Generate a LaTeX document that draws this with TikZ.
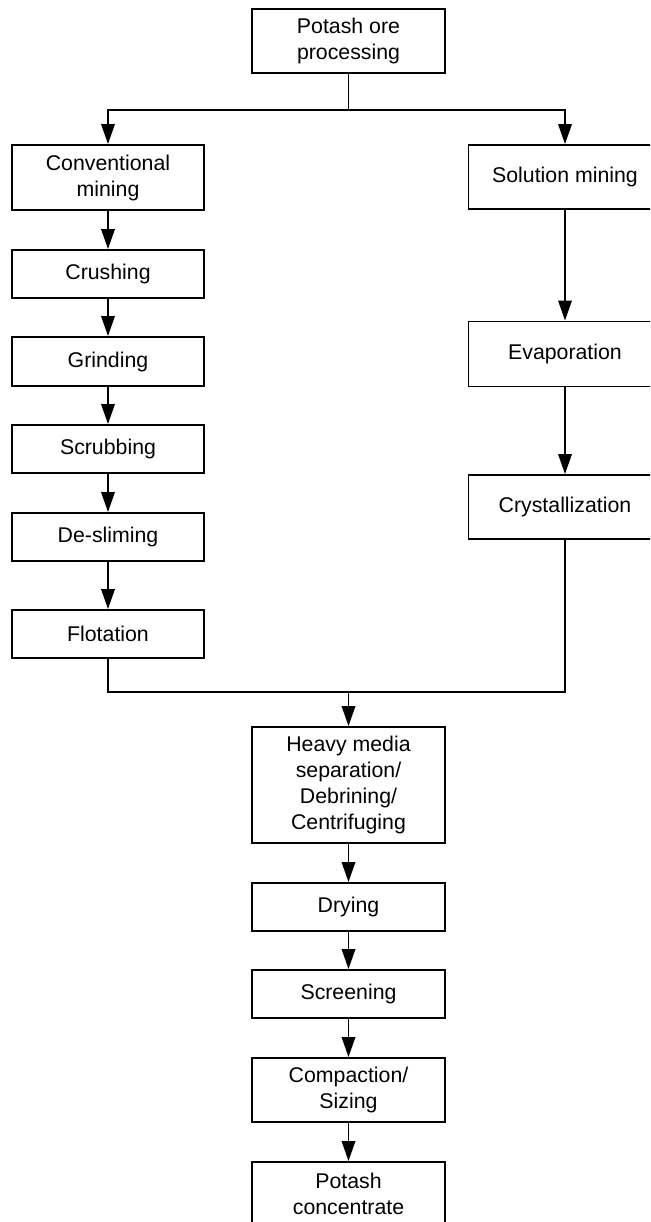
\documentclass[tikz,border=0pt]{standalone}
\usepackage{fontspec}
\setmainfont{Liberation Sans}
\usetikzlibrary{arrows.meta}

\begin{document}
\begin{tikzpicture}[x=1pt,y=-1pt,
  box/.style={draw=black, line width=1.9pt, fill=white, inner sep=0pt,
    align=center, font=\fontsize{21.3}{26}\selectfont},
  colL/.style={box, minimum width=192pt},
  colM/.style={box, minimum width=192.5pt},
  colR/.style={box, minimum width=193pt},
  link/.style={draw=black, line width=1.8pt},
  arr/.style={link, -{Triangle[length=20pt,width=13.5pt]}}
]
\useasboundingbox (0,0) rectangle (650,1222);
\fill[white] (0,0) rectangle (650,1222);
\clip (0,0) rectangle (650,1222);

% top process
\node[colM, minimum height=64pt] (top) at (348.5,41) {Potash ore\\processing};

% conventional mining branch
\node[colL, minimum height=65pt] (conv)    at (108,177.5) {Conventional\\mining};
\node[colL, minimum height=48pt] (crush)   at (108,274)   {Crushing};
\node[colL, minimum height=49pt] (grind)   at (108,361.5) {Grinding};
\node[colL, minimum height=48pt] (scrub)   at (108,449)   {Scrubbing};
\node[colL, minimum height=48pt] (deslime) at (108,537)   {De-sliming};
\node[colL, minimum height=48pt] (flot)    at (108,634)   {Flotation};

% solution mining branch
\node[colR, minimum height=64pt] (sol)   at (565,177) {Solution mining};
\node[colR, minimum height=65pt] (evap)  at (565,354) {Evaporation};
\node[colR, minimum height=64pt] (cryst) at (565,507) {Crystallization};

% common finishing steps
\node[colM, minimum height=116pt] (heavy)   at (348.5,785)  {Heavy media\\separation/\\Debrining/\\Centrifuging};
\node[colM, minimum height=48pt]  (dry)     at (348.5,907)  {Drying};
\node[colM, minimum height=48pt]  (screen)  at (348.5,994)  {Screening};
\node[colM, minimum height=64pt]  (compact) at (348.5,1090) {Compaction/\\Sizing};
\node[colM, minimum height=64pt]  (conc)    at (348.5,1194) {Potash\\concentrate};

% split and merge points
\coordinate (split) at (348.5,110);
\coordinate (merge) at (348.5,692);

\draw[link] (top.south) -- (split);
\draw[arr] (split) -| (conv.north);
\draw[arr] (split) -| (sol.north);

\draw[arr] (conv.south) -- (crush.north);
\draw[arr] (crush.south) -- (grind.north);
\draw[arr] (grind.south) -- (scrub.north);
\draw[arr] (scrub.south) -- (deslime.north);
\draw[arr] (deslime.south) -- (flot.north);

\draw[arr] (sol.south) -- (evap.north);
\draw[arr] (evap.south) -- (cryst.north);

\draw[link] (flot.south) |- (merge) -| (cryst.south);
\draw[arr] (merge) -- (heavy.north);

\draw[arr] (heavy.south) -- (dry.north);
\draw[arr] (dry.south) -- (screen.north);
\draw[arr] (screen.south) -- (compact.north);
\draw[arr] (compact.south) -- (conc.north);
\end{tikzpicture}
\end{document}
